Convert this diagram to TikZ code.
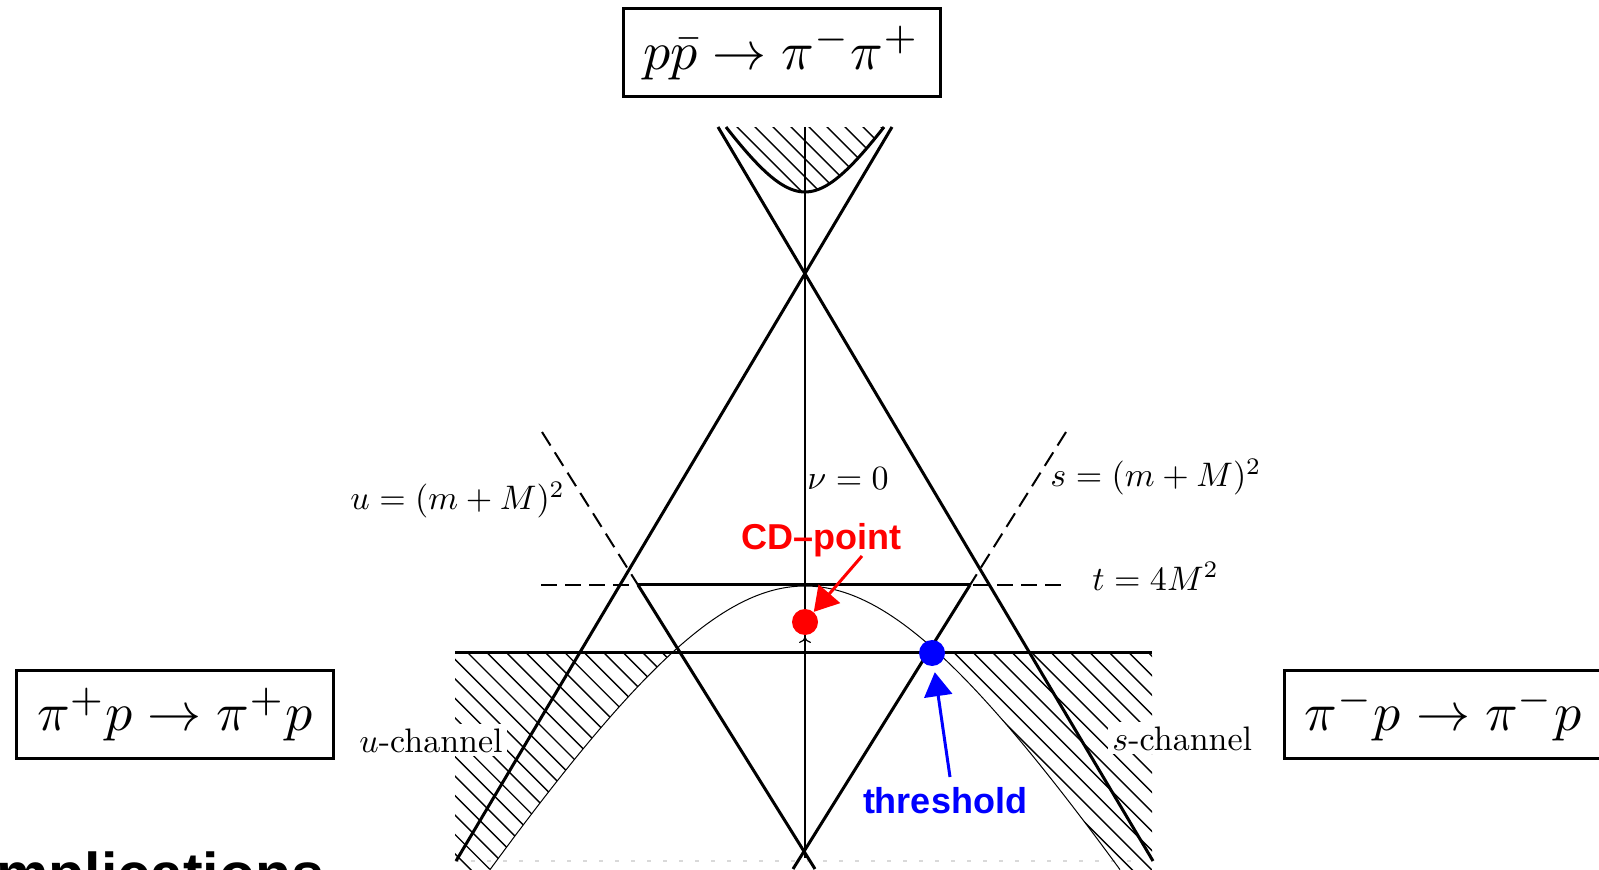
\documentclass[tikz,border=0pt]{standalone}
\usepackage{fontspec}
\newfontfamily\hsans{Liberation Sans}
\usetikzlibrary{arrows.meta}
\newcommand{\mlab}[1]{\scalebox{1.7}{#1}}
\newcommand{\mbig}[1]{\scalebox{2.7}{#1}}
\begin{document}
\begin{tikzpicture}[x=0.5pt,y=-0.5pt,
  heavy/.style={line width=1.5pt},
  axisline/.style={line width=1pt},
  thincurve/.style={line width=0.5pt},
  hatchline/.style={line width=0.7pt},
  dashline/.style={line width=1pt, dash pattern=on 8pt off 4pt},
  lbl/.style={inner sep=0pt},
  chan/.style={inner sep=2pt, fill=white},
  procbox/.style={draw, line width=1.5pt, minimum width=158.5pt, minimum height=44pt, inner sep=0pt},
  callout/.style={font=\hsans\bfseries\fontsize{18}{20}\selectfont, inner sep=0pt},
  bigtip/.style={-{Triangle[length=12pt,width=14pt]}}]
\useasboundingbox (0,0) rectangle (1599,870);

% key points
\coordinate (apex) at (805,273);
\coordinate (TL) at (718,127);
\coordinate (TR) at (892,127);
\coordinate (BL) at (456,861);
\coordinate (BR) at (1153,861);
\coordinate (axT) at (805,127);
\coordinate (axB) at (805,858);
\coordinate (h0L) at (455,652);
\coordinate (h0R) at (1152,652);
\coordinate (t4L) at (541,585);
\coordinate (t4R) at (1066,585);
\coordinate (triL) at (638,585);
\coordinate (triR) at (970,585);
\coordinate (triB) at (804,852);
\coordinate (triLx) at (815,869);
\coordinate (triRx) at (793,869);
\coordinate (uD) at (542,432);
\coordinate (sD) at (1066,432);
\coordinate (bd1) at (455,861);
\coordinate (bd2) at (1135,861);

% hatching, left
\begin{scope}
\clip (455,652) -- (673,652) -- plot[domain=673:490, samples=40] (\x,{586+303*(sqrt(1+((\x-805)/190)^2)-1)}) -- (455,870) -- cycle;
\foreach \k in {-12,...,36} \draw[hatchline] ({457+19.45*\k},642) -- ++(240,240);
\end{scope}
% hatching, right
\begin{scope}
\clip (937,652) -- (1152,652) -- (1152,870) -- (1120,870) -- plot[domain=1120:937, samples=40] (\x,{586+303*(sqrt(1+((\x-805)/190)^2)-1)}) -- cycle;
\foreach \k in {-12,...,36} \draw[hatchline] ({457+19.45*\k},642) -- ++(240,240);
\end{scope}
% hatching, top
\begin{scope}
\clip plot[domain=726:884, samples=40] (\x,{192-81*(sqrt(1+((\x-805)/52.7)^2)-1)}) -- cycle;
\foreach \k in {0,...,17} \draw[hatchline] ({602+18*\k},100) -- ++(140,140);
\end{scope}

% faint line at the bottom
\draw[gray!30, line width=0.8pt, dash pattern=on 2pt off 6pt] (bd1) -- (bd2);

% channel labels (white background)
\node[chan, anchor=base west] (uch) at (355,752) {\mlab{$u$-channel}};
\node[chan, anchor=base west] (sch) at (1108,750) {\mlab{$s$-channel}};

% curves
\draw[thincurve] plot[domain=490:1120, samples=120] (\x,{586+303*(sqrt(1+((\x-805)/190)^2)-1)});
\draw[heavy] plot[domain=726:884, samples=50] (\x,{192-81*(sqrt(1+((\x-805)/52.7)^2)-1)});

% dashed lines
\draw[dashline] (t4L) -- (t4R);
\draw[dashline] (uD) -- (triL);
\draw[dashline] (sD) -- (triR);

% axis
\draw[axisline] (axT) -- (axB);
\draw[line width=0.6pt, -{To[length=3pt,width=6pt]}] (805,665) -- (805,637);

% main lines
\draw[heavy] (TL) -- (BR);
\draw[heavy] (TR) -- (BL);
\draw[heavy] (h0L) -- (h0R);
\draw[heavy] (triL) -- (triR);
\draw[heavy] (triL) -- (triLx);
\draw[heavy] (triR) -- (triRx);

% labels
\node[lbl, anchor=base west] (nu) at (807,490) {\mlab{$\nu=0$}};
\node[lbl, anchor=base west] (ulab) at (350,510) {\mlab{$u=(m+M)^2$}};
\node[lbl, anchor=base west] (slab) at (1050,487) {\mlab{$s=(m+M)^2$}};
\node[lbl, anchor=base west] (tlab) at (1092,590) {\mlab{$t=4M^2$}};

% process boxes
\node[procbox] (pp) at (781.5,53) {\mbig{$p\bar p\to\pi^-\pi^+$}};
\node[procbox] (pip) at (175,714.5) {\mbig{$\pi^+p\to\pi^+p$}};
\node[procbox] (pim) at (1443,714) {\mbig{$\pi^-p\to\pi^-p$}};

% points and callouts
\node[circle, fill=red, minimum size=13pt, inner sep=0pt] (cd) at (805,622) {};
\node[circle, fill=blue, minimum size=13pt, inner sep=0pt] (thr) at (932,653) {};
\node[callout, text=red, anchor=base] (cdlbl) at (821,550) {CD–point};
\node[callout, text=blue, anchor=base] (thrlbl) at (945,813) {threshold};
\coordinate (cdA) at (862,556);
\coordinate (thrA) at (950,777);
\draw[red, line width=1.5pt, bigtip] (cdA) -- (cd);
\draw[blue, line width=1.5pt, bigtip, shorten >=3pt] (thrA) -- (thr);

% cut-off text at the bottom
\node[font=\hsans\bfseries\fontsize{29.5}{31}\selectfont, anchor=base west, inner sep=0pt] (impl) at (-4,894) {mplications};
\end{tikzpicture}
\end{document}
